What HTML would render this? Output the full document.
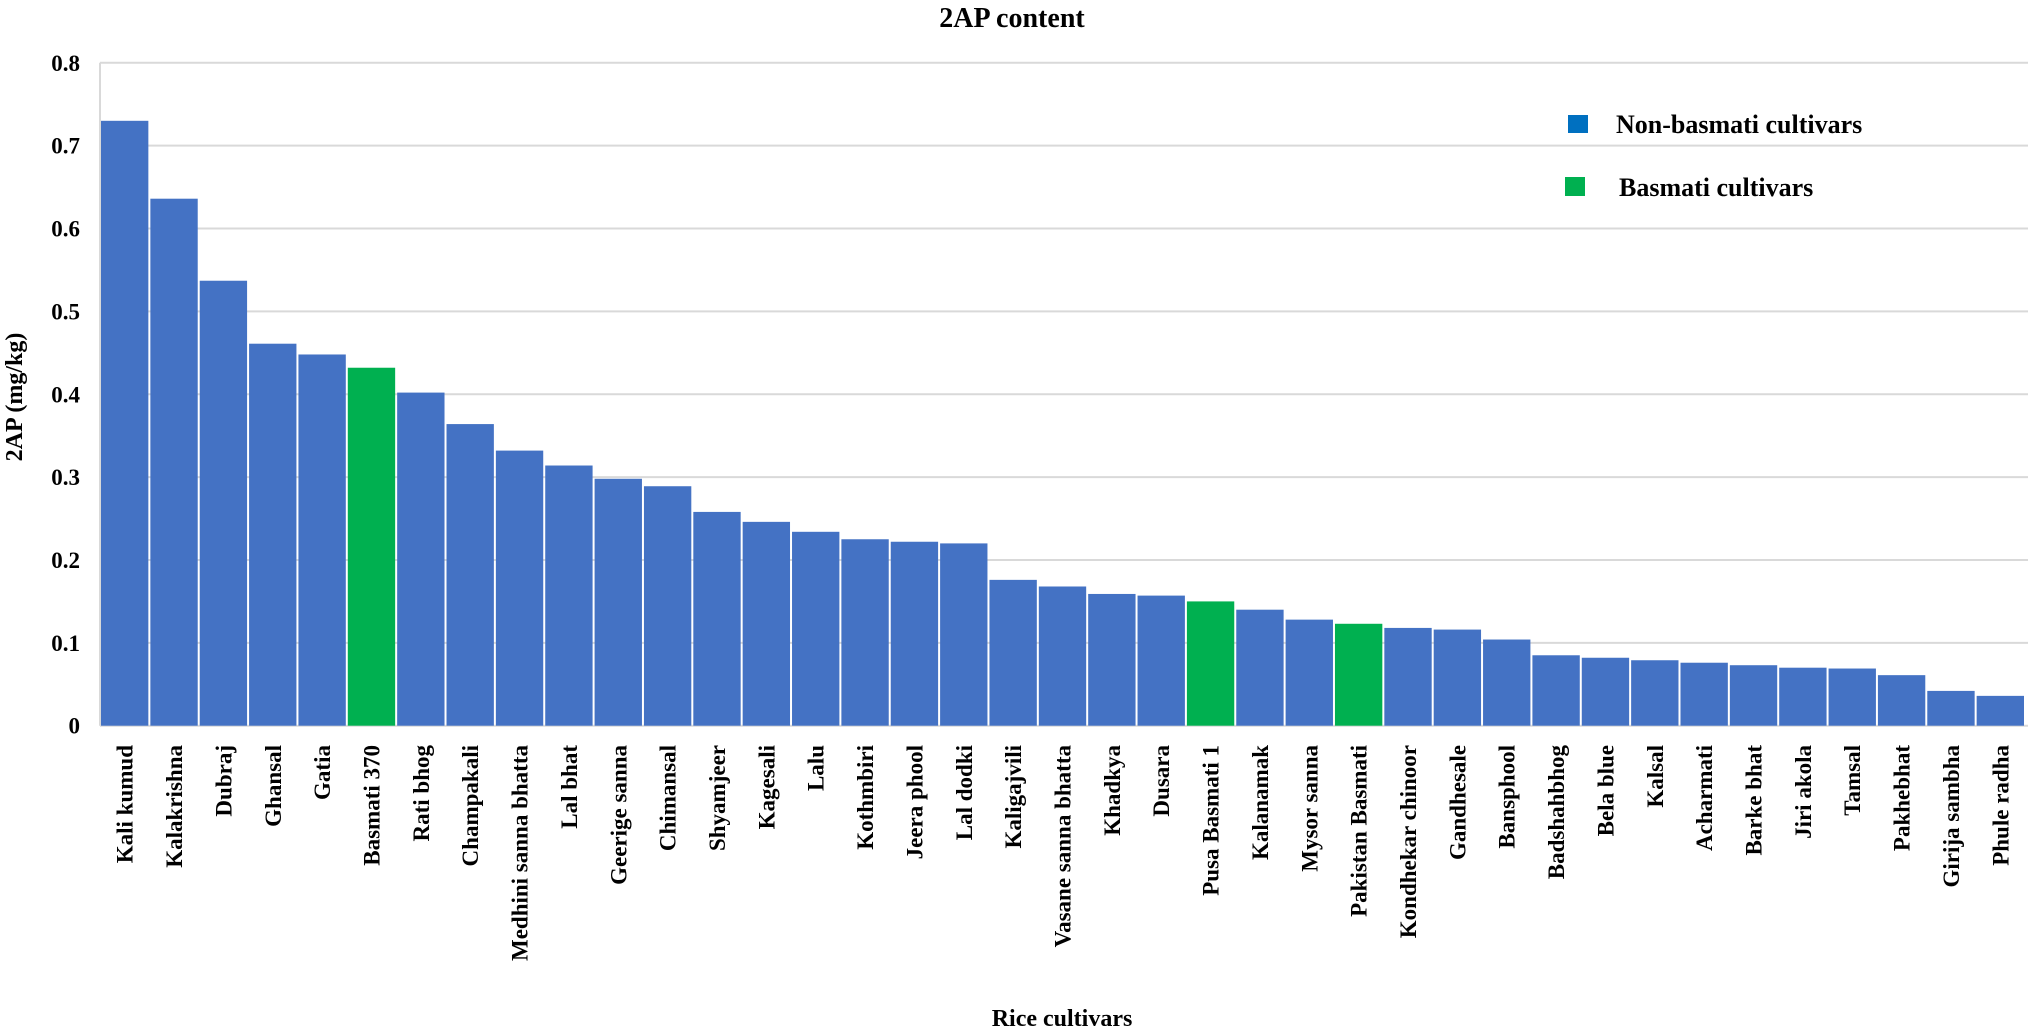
<!DOCTYPE html>
<html><head><meta charset="utf-8">
<style>
html,body{margin:0;padding:0;background:#fff;}
svg{display:block;font-family:"Liberation Serif",serif;font-weight:bold;}
</style></head>
<body>
<svg id="chart" width="2030" height="1035" viewBox="0 0 2030 1035" xmlns="http://www.w3.org/2000/svg">
<text x="1012" y="27" text-anchor="middle" font-size="28">2AP content</text>
<g id="grid"></g>
<g id="bars"></g>
<g id="yticks"></g>
<g id="xticks"></g>
<text transform="translate(22,397) rotate(-90)" text-anchor="middle" font-size="24">2AP (mg/kg)</text>
<text x="1062" y="1026" text-anchor="middle" font-size="24">Rice cultivars</text>
<g>
<g>
<rect x="1568" y="115" width="20" height="18" fill="#0070C0"/>
<text x="1616" y="133" font-size="26">Non-basmati cultivars</text>
</g>
<g>
<rect x="1565" y="177" width="20" height="19" fill="#00B050"/>
<text x="1619" y="196" font-size="26">Basmati cultivars</text>
</g>
</g>
</svg>
<script>
const categories = ["Kali kumud","Kalakrishna","Dubraj","Ghansal","Gatia","Basmati 370","Rati bhog","Champakali","Medhini sanna bhatta","Lal bhat","Geerige sanna","Chimansal","Shyamjeer","Kagesali","Lalu","Kothmbiri","Jeera phool","Lal dodki","Kaligajvili","Vasane sanna bhatta","Khadkya","Dusara","Pusa Basmati 1","Kalanamak","Mysor sanna","Pakistan Basmati","Kondhekar chinoor","Gandhesale","Bansphool","Badshahbhog","Bela blue","Kalsal","Acharmati","Barke bhat","Jiri akola","Tamsal","Pakhebhat","Girija sambha","Phule radha"];
const values = [0.730,0.636,0.537,0.461,0.448,0.432,0.402,0.364,0.332,0.314,0.298,0.289,0.258,0.246,0.234,0.225,0.222,0.220,0.176,0.168,0.159,0.157,0.150,0.140,0.128,0.123,0.118,0.116,0.104,0.085,0.082,0.079,0.076,0.073,0.070,0.069,0.061,0.042,0.036];
const isBasmati = [0,0,0,0,0,1,0,0,0,0,0,0,0,0,0,0,0,0,0,0,0,0,1,0,0,1,0,0,0,0,0,0,0,0,0,0,0,0,0];
const yTicks = [0,0.1,0.2,0.3,0.4,0.5,0.6,0.7,0.8];
const yTickLabels = ["0","0.1","0.2","0.3","0.4","0.5","0.6","0.7","0.8"];

const NS="http://www.w3.org/2000/svg";
const L=100,R=2025,T=62.8,B=725.7,YMAX=0.8;
const y=v=>B-(v/YMAX)*(B-T);
const bw=(R-L)/categories.length;
const x=i=>L+i*bw;
function mk(tag,attrs,parent){const e=document.createElementNS(NS,tag);for(const k in attrs)e.setAttribute(k,attrs[k]);parent.appendChild(e);return e;}
const grid=document.getElementById('grid'),bars=document.getElementById('bars'),yt=document.getElementById('yticks'),xt=document.getElementById('xticks');
mk('line',{x1:L,x2:L,y1:T,y2:B,stroke:'#d9d9d9','stroke-width':2},grid);
yTicks.forEach((t,i)=>{
  const g=mk('line',{x1:L,x2:R+3,y1:y(t),y2:y(t),stroke:'#d9d9d9','stroke-width':2},grid);
  
  
  const tx=mk('text',{x:80,y:y(t)+8,'text-anchor':'end','font-size':23},yt);
  tx.textContent=yTickLabels[i];
  
  
});
categories.forEach((c,i)=>{
  const r=mk('rect',{x:x(i)+1,y:y(values[i]),width:bw-2,height:B-y(values[i]),fill:isBasmati[i]?'#00B050':'#4472C4'},bars);
  
  
  const cx=x(i)+bw/2;
  const t=mk('text',{transform:`translate(${cx+8},745) rotate(-90)`,'text-anchor':'end','font-size':23},xt);
  t.textContent=c;
  
  
});
</script>
</body></html>
